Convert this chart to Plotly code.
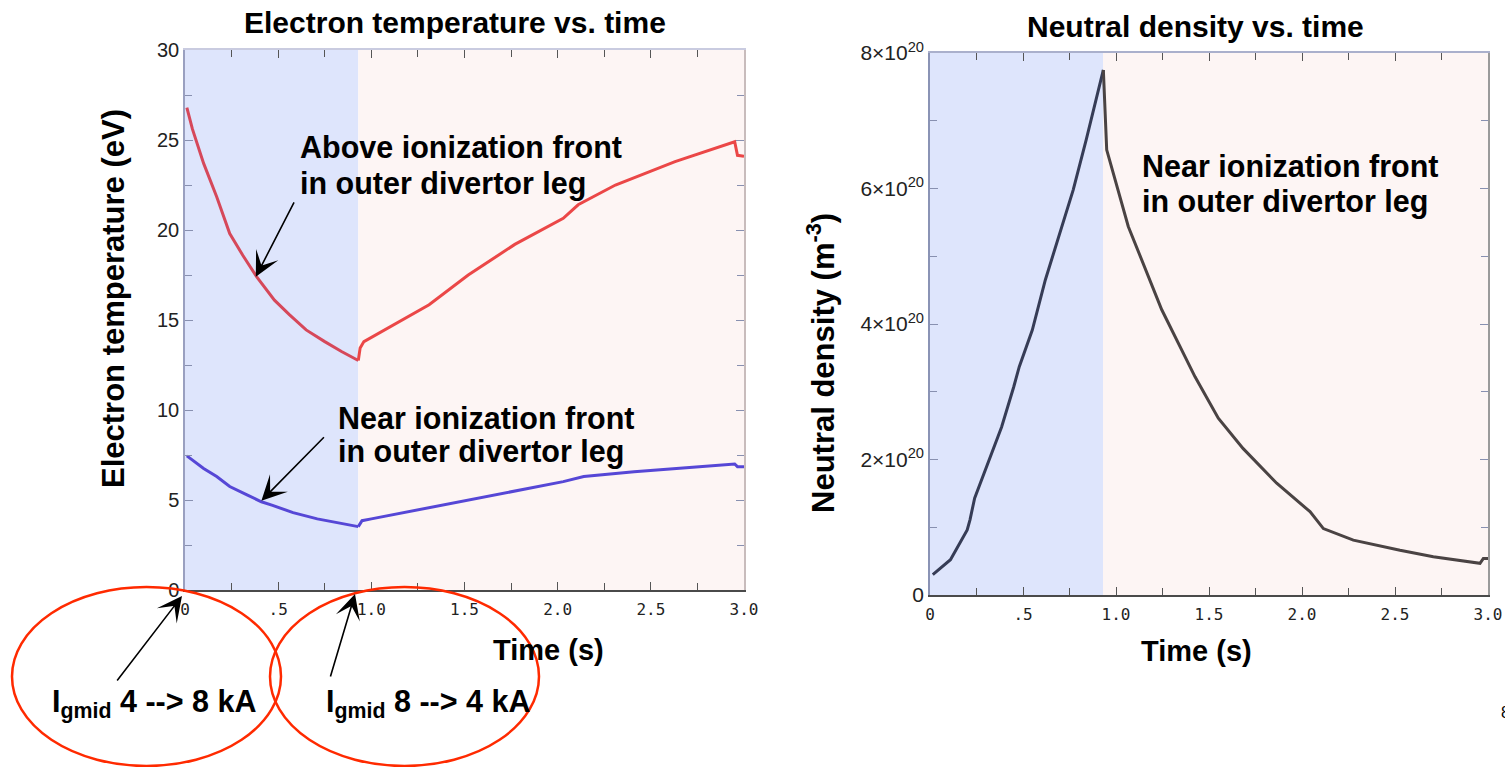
import plotly.graph_objects as go

# ---------------- data ----------------
# Electron temperature (eV): gas-puff ramp-up phase (0 -> 0.93 s) and ramp-down phase
t_up_te = [0.01, 0.04, 0.10, 0.17, 0.24, 0.31, 0.385, 0.48, 0.56, 0.65, 0.75, 0.84, 0.93]
te_above_up = [26.8, 25.6, 23.7, 21.85, 19.8, 18.6, 17.4, 16.1, 15.3, 14.45, 13.8, 13.25, 12.75]
t_down_te = [0.93, 0.94, 0.96, 1.09, 1.31, 1.52, 1.77, 2.03, 2.07, 2.11, 2.31, 2.63, 2.95, 2.965, 3.0]
te_above_down = [12.75, 13.45, 13.8, 14.55, 15.85, 17.5, 19.2, 20.65, 21.05, 21.4, 22.5, 23.8, 24.9, 24.15, 24.1]

t_up_near = [0.01, 0.10, 0.17, 0.24, 0.33, 0.41, 0.47, 0.58, 0.71, 0.82, 0.92, 0.93]
te_near_up = [7.45, 6.75, 6.3, 5.75, 5.3, 4.9, 4.7, 4.3, 3.95, 3.72, 3.55, 3.52]
t_down_near = [0.93, 0.95, 1.0, 1.24, 1.51, 1.78, 2.03, 2.14, 2.41, 2.76, 2.95, 2.965, 3.0]
te_near_down = [3.52, 3.85, 3.95, 4.44, 5.0, 5.55, 6.02, 6.3, 6.57, 6.85, 7.0, 6.85, 6.85]

# Neutral density near ionization front (units of 1e20 m^-3)
t_up_n = [0.015, 0.11, 0.20, 0.215, 0.24, 0.305, 0.385, 0.45, 0.48, 0.55, 0.62, 0.77, 0.84, 0.932]
n_up = [0.30, 0.52, 0.96, 1.11, 1.43, 1.89, 2.48, 3.07, 3.37, 3.91, 4.65, 5.98, 6.72, 7.75]
t_down_n = [0.932, 0.95, 1.066, 1.183, 1.246, 1.425, 1.55, 1.684, 1.864, 2.043, 2.115,
            2.276, 2.527, 2.706, 2.957, 2.975, 3.0]
n_down = [7.75, 6.57, 5.44, 4.65, 4.21, 3.22, 2.61, 2.16, 1.65, 1.23, 0.98,
          0.81, 0.66, 0.565, 0.467, 0.54, 0.54]

switch_time = 0.93  # coil current switched 8 -> 4 kA

x_tickvals = [0, 0.5, 1.0, 1.5, 2.0, 2.5, 3.0]
x_ticktext = ["0", ".5", "1.0", "1.5", "2.0", "2.5", "3.0"]
x_minor = [0.25, 0.75, 1.25, 1.75, 2.25, 2.75]
te_tickvals = [0, 5, 10, 15, 20, 25, 30]
te_minor = [2.5, 7.5, 12.5, 17.5, 22.5, 27.5]
n_tickvals = [0, 2, 4, 6, 8]
n_ticktext = ["0", "2×10<sup>20</sup>", "4×10<sup>20</sup>", "6×10<sup>20</sup>", "8×10<sup>20</sup>"]
n_minor = [1, 3, 5, 7]

# ---------------- layout helpers ----------------
W, H = 1505, 767


def px(x):
    return x / W


def py(y):
    return 1 - y / H


BOLD = "Liberation Sans, Arial, sans-serif"

fig = go.Figure()

RED_A, RED_B = "#d6485a", "#eb4747"
BLUE = "#5647d6"
DARK_A, DARK_B = "#363c56", "#4a4343"

fig.add_trace(go.Scatter(x=t_up_te, y=te_above_up, mode="lines",
                         line=dict(color=RED_A, width=3), xaxis="x", yaxis="y"))
fig.add_trace(go.Scatter(x=t_down_te, y=te_above_down, mode="lines",
                         line=dict(color=RED_B, width=3), xaxis="x", yaxis="y"))
fig.add_trace(go.Scatter(x=t_up_near, y=te_near_up, mode="lines",
                         line=dict(color=BLUE, width=3), xaxis="x", yaxis="y"))
fig.add_trace(go.Scatter(x=t_down_near, y=te_near_down, mode="lines",
                         line=dict(color=BLUE, width=3), xaxis="x", yaxis="y"))
fig.add_trace(go.Scatter(x=t_up_n, y=n_up, mode="lines",
                         line=dict(color=DARK_A, width=3), xaxis="x2", yaxis="y2"))
fig.add_trace(go.Scatter(x=t_down_n, y=n_down, mode="lines",
                         line=dict(color=DARK_B, width=3), xaxis="x2", yaxis="y2"))

# empty traces so the frame (top / right) axes are drawn
for xa, ya in [("x3", "y"), ("x", "y3"), ("x4", "y2"), ("x2", "y4")]:
    fig.add_trace(go.Scatter(x=[None], y=[None], xaxis=xa, yaxis=ya, hoverinfo="skip"))

xfont = dict(family="DejaVu Sans Mono, monospace", size=16, color="#222")
yfont = dict(family="Liberation Sans, Arial, sans-serif", size=20, color="#222")
nfont = dict(family="Liberation Sans, Arial, sans-serif", size=21, color="#222")


def x_axis(domain, anchor, line_color, **kw):
    return dict(domain=domain, anchor=anchor, range=[0, 3], showgrid=False, zeroline=False,
                automargin=False,
                tickmode="array", tickvals=x_tickvals, ticktext=x_ticktext,
                ticks="inside", ticklen=8, tickcolor="#555", tickwidth=1.2,
                minor=dict(tickvals=x_minor, ticks="inside", ticklen=7, tickcolor="#555"),
                showline=True, linecolor=line_color, linewidth=2, tickfont=xfont,
                fixedrange=True, **kw)


def y_axis(domain, anchor, rng, vals, text, minor, line_color, font, **kw):
    d = dict(domain=domain, anchor=anchor, range=rng, showgrid=False, zeroline=False,
             automargin=False,
             tickmode="array", tickvals=vals,
             ticks="inside", ticklen=8, tickcolor="#8890b0", tickwidth=1.2,
             minor=dict(tickvals=minor, ticks="inside", ticklen=7, tickcolor="#8890b0"),
             showline=True, linecolor=line_color, linewidth=1.5, tickfont=font,
             fixedrange=True, **kw)
    if text is not None:
        d["ticktext"] = text
    return d


xd1 = [px(185), px(744)]
yd1 = [py(590), py(50)]
xd2 = [px(930), px(1488)]
yd2 = [py(595), py(53)]

fig.update_layout(
    width=W, height=H,
    margin=dict(l=0, r=0, t=0, b=0, pad=0, autoexpand=False),
    paper_bgcolor="white", plot_bgcolor="white",
    showlegend=False,
    xaxis=x_axis(xd1, "y", "#4a4a4a", ticklabelstandoff=4),
    xaxis2=x_axis(xd2, "y2", "#4a4a4a", ticklabelstandoff=4),
    xaxis3=x_axis(xd1, "y", "#c9cbe0", overlaying="x", side="top", showticklabels=False),
    xaxis4=x_axis(xd2, "y2", "#aab0cc", overlaying="x2", side="top", showticklabels=False),
    yaxis=y_axis(yd1, "x", [0, 30], te_tickvals, None, te_minor, "#9aa0c0", yfont),
    yaxis2=y_axis(yd2, "x2", [0, 8], n_tickvals, n_ticktext, n_minor, "#8a93b5", nfont),
    yaxis3=y_axis(yd1, "x", [0, 30], te_tickvals, None, te_minor, "#c8bcbc", yfont,
                  overlaying="y", side="right", showticklabels=False),
    yaxis4=y_axis(yd2, "x2", [0, 8], n_tickvals, n_ticktext, n_minor, "#9a9a9a", nfont,
                  overlaying="y2", side="right", showticklabels=False),
)

# shaded phases
for xr in ["x", "x2"]:
    yr = "y" if xr == "x" else "y2"
    fig.add_shape(type="rect", xref=xr, yref=f"{yr} domain", x0=0, x1=switch_time, y0=0, y1=1,
                  fillcolor="#dee5fc", line_width=0, layer="below")
    fig.add_shape(type="rect", xref=xr, yref=f"{yr} domain", x0=switch_time, x1=3, y0=0, y1=1,
                  fillcolor="#fdf5f4", line_width=0, layer="below")

# red ellipses around the coil-current notes
for x0, x1 in [(12, 281), (270, 539)]:
    fig.add_shape(type="circle", xref="paper", yref="paper",
                  x0=px(x0), x1=px(x1), y0=py(766), y1=py(587),
                  line=dict(color="#ff2a00", width=2.5))


def text(x, y, s, size=30, xanchor="center", yanchor="middle", angle=0, align="center"):
    fig.add_annotation(x=px(x), y=py(y), xref="paper", yref="paper", text=s, showarrow=False,
                       xanchor=xanchor, yanchor=yanchor, textangle=angle, align=align,
                       font=dict(family=BOLD, size=size, color="black"))


text(455, 23, "<b>Electron temperature vs. time</b>", size=30)
text(1195, 27, "<b>Neutral density vs. time</b>", size=30)
text(113, 298, "<b>Electron temperature (eV)</b>", size=31, angle=-90)
text(821, 363, "<b>Neutral density (m<sup>-3</sup>)</b>", size=31, angle=-90)
text(548, 650, "<b>Time (s)</b>", size=29)
text(1196, 651, "<b>Time (s)</b>", size=29)
for x, y, s in [(298, 147, "Above ionization front"), (298, 183, "in outer divertor leg"),
                (336, 418, "Near ionization front"), (336, 452, "in outer divertor leg"),
                (1140, 166, "Near ionization front"), (1140, 201, "in outer divertor leg")]:
    text(x, y, f"<b>{s}</b>", size=30.5, xanchor="left")
text(154, 703, "<b>I<sub>gmid</sub> 4 --> 8 kA</b>", size=30.5)
text(428, 703, "<b>I<sub>gmid</sub> 8 --> 4 kA</b>", size=30.5)
text(1499, 712, "8", size=16, xanchor="left")

arrow = dict(showarrow=True, arrowhead=3, arrowsize=2.6, arrowwidth=1.6, arrowcolor="black",
             text="", standoff=0)
fig.add_annotation(x=0.38, y=17.4, xref="x", yref="y", ax=39, ay=-76, **arrow)
fig.add_annotation(x=0.41, y=4.96, xref="x", yref="y", ax=64, ay=-65, **arrow)
fig.add_annotation(x=px(182), y=py(596), xref="paper", yref="paper", ax=-66, ay=86, **arrow)
fig.add_annotation(x=px(355), y=py(594), xref="paper", yref="paper", ax=-25, ay=84, **arrow)

fig.write_html("out.html")
